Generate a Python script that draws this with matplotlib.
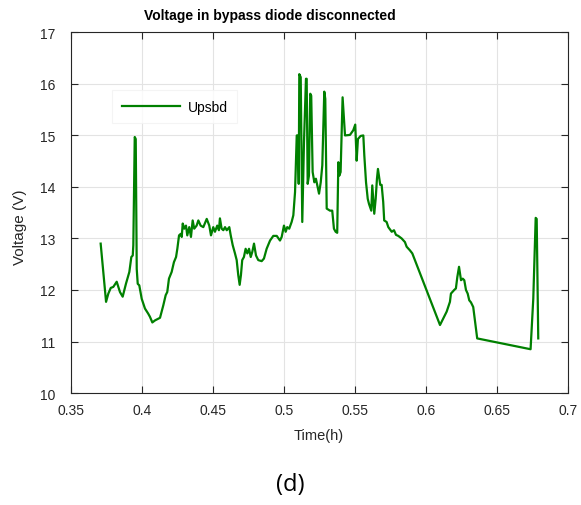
import matplotlib.pyplot as plt

plt.rcParams['font.family'] = ['Liberation Sans', 'DejaVu Sans']

# time (h) and voltage (V)
time_h = [
    0.3711, 0.3749, 0.3765, 0.3782, 0.3800, 0.3824, 0.3847, 0.3866, 0.3889,
    0.3913, 0.3927, 0.3937, 0.3941, 0.3951, 0.3958, 0.3965, 0.3972, 0.3983,
    0.4000, 0.4023, 0.4046, 0.4058, 0.4075, 0.4094, 0.4129, 0.4152, 0.4169,
    0.4180, 0.4192, 0.4211, 0.4227, 0.4242, 0.4251, 0.4263, 0.4275, 0.4282,
    0.4289, 0.4300, 0.4312, 0.4321, 0.4335, 0.4347, 0.4359, 0.4370, 0.4387,
    0.4399, 0.4415, 0.4434, 0.4458, 0.4476, 0.4488, 0.4504, 0.4516, 0.4532,
    0.4544, 0.4551, 0.4563, 0.4575, 0.4587, 0.4599, 0.4617, 0.4627, 0.4641,
    0.4657, 0.4669, 0.4680, 0.4690, 0.4699, 0.4708, 0.4720, 0.4732, 0.4744,
    0.4756, 0.4768, 0.4779, 0.4791, 0.4805, 0.4821, 0.4845, 0.4861, 0.4880,
    0.4904, 0.4927, 0.4951, 0.4974, 0.4986, 0.5002, 0.5014, 0.5025, 0.5039,
    0.5056, 0.5068, 0.5080, 0.5092, 0.5099, 0.5106, 0.5110, 0.5120, 0.5131,
    0.5143, 0.5157, 0.5162, 0.5169, 0.5178, 0.5187, 0.5194, 0.5204, 0.5216,
    0.5227, 0.5237, 0.5249, 0.5261, 0.5272, 0.5286, 0.5293, 0.5303, 0.5326,
    0.5342, 0.5354, 0.5366, 0.5377, 0.5385, 0.5392, 0.5401, 0.5415, 0.5420,
    0.5432, 0.5467, 0.5490, 0.5504, 0.5514, 0.5523, 0.5542, 0.5561, 0.5568,
    0.5580, 0.5592, 0.5601, 0.5617, 0.5624, 0.5638, 0.5648, 0.5657, 0.5664,
    0.5680, 0.5690, 0.5701, 0.5708, 0.5725, 0.5737, 0.5761, 0.5777, 0.5791,
    0.5807, 0.5831, 0.5854, 0.5866, 0.5889, 0.5906, 0.6101, 0.6148, 0.6171,
    0.6178, 0.6201, 0.6213, 0.6223, 0.6235, 0.6249, 0.6261, 0.6272, 0.6284,
    0.6296, 0.6307, 0.6319, 0.6335, 0.6347, 0.6363, 0.6739, 0.6758, 0.6775,
    0.6782, 0.6793,
]
volt = [
    12.90, 11.77, 11.93, 12.04, 12.06, 12.16, 11.96, 11.87, 12.12,
    12.35, 12.64, 12.67, 12.87, 14.97, 14.93, 12.41, 12.12, 12.09,
    11.83, 11.64, 11.54, 11.48, 11.37, 11.41, 11.46, 11.70, 11.90,
    11.96, 12.22, 12.35, 12.54, 12.64, 12.80, 13.06, 13.09, 13.03,
    13.29, 13.19, 13.25, 13.06, 13.22, 13.03, 13.35, 13.19, 13.25,
    13.35, 13.25, 13.22, 13.38, 13.25, 13.06, 13.22, 13.13, 13.25,
    13.16, 13.39, 13.19, 13.16, 13.22, 13.16, 13.22, 13.06, 12.87,
    12.71, 12.58, 12.29, 12.10, 12.29, 12.58, 12.64, 12.80, 12.71,
    12.80, 12.64, 12.74, 12.90, 12.67, 12.58, 12.56, 12.61, 12.80,
    12.96, 13.05, 13.05, 12.96, 13.03, 13.25, 13.13, 13.22, 13.19,
    13.32, 13.45, 13.90, 15.00, 15.00, 14.06, 16.19, 16.13, 13.32,
    14.87, 16.10, 16.10, 14.06, 14.22, 15.81, 15.77, 14.29, 14.09,
    14.16, 14.03, 13.87, 14.09, 14.42, 15.85, 15.71, 13.58, 13.54,
    13.54, 13.19, 13.13, 13.11, 14.48, 14.22, 14.29, 15.74, 15.52,
    15.00, 15.01, 15.10, 15.21, 14.51, 14.93, 14.99, 15.00, 14.61,
    14.09, 13.77, 13.67, 13.54, 14.03, 13.48, 13.77, 14.16, 14.35,
    14.04, 14.04, 13.71, 13.35, 13.32, 13.22, 13.13, 13.16, 13.07,
    13.05, 13.00, 12.93, 12.84, 12.77, 12.71, 11.32, 11.58, 11.77,
    11.93, 12.00, 12.03, 12.25, 12.45, 12.19, 12.22, 12.19, 12.00,
    11.93, 11.80, 11.76, 11.67, 11.41, 11.06, 10.85, 11.83, 13.40,
    13.38, 11.06,
]

x_ticks = [0.35, 0.4, 0.45, 0.5, 0.55, 0.6, 0.65, 0.7]
x_tick_labels = ['0.35', '0.4', '0.45', '0.5', '0.55', '0.6', '0.65', '0.7']
y_ticks = [10, 11, 12, 13, 14, 15, 16, 17]

fig = plt.figure(figsize=(5.81, 5.06), dpi=100)
ax = fig.add_axes([0.1217, 0.2213, 0.8553, 0.7127])

ax.plot(time_h, volt, color='#008000', lw=1.6, label='Upsbd')

ax.set_xlim(0.35, 0.7)
ax.set_ylim(10, 17)
ax.set_xticks(x_ticks)
ax.set_xticklabels(x_tick_labels)
ax.set_yticks(y_ticks)
ax.grid(True, color='#e3e3e3', lw=0.8)
ax.set_axisbelow(True)
ax.tick_params(direction='in', length=5, top=True, right=True,
               labelsize=10, colors='#262626')
ax.tick_params(axis='x', pad=7)
ax.tick_params(axis='y', pad=11)
for s in ax.spines.values():
    s.set_color('#262626')
    s.set_linewidth(0.8)

ax.set_xlabel('Time(h)', fontsize=10.5, color='#262626', labelpad=8)
ax.set_ylabel('Voltage (V)', fontsize=11, color='#262626')
ax.yaxis.set_label_coords(-0.087, 0.463)

leg = ax.legend(loc='upper left', bbox_to_anchor=(0.07, 0.86), fontsize=10,
                frameon=True, fancybox=False, handlelength=4.2,
                borderpad=0.7, handletextpad=0.5)
leg.get_frame().set_edgecolor('#f2f2f2')
leg.get_frame().set_linewidth(0.8)

fig.text(0.465, 0.969, 'Voltage in bypass diode disconnected',
         ha='center', va='center', fontsize=10, fontweight='bold')
fig.text(0.5, 0.041, '(d)', ha='center', va='center', fontsize=17,
         family=['Open Sans', 'DejaVu Sans'])

fig.savefig('out.png', dpi=100)
